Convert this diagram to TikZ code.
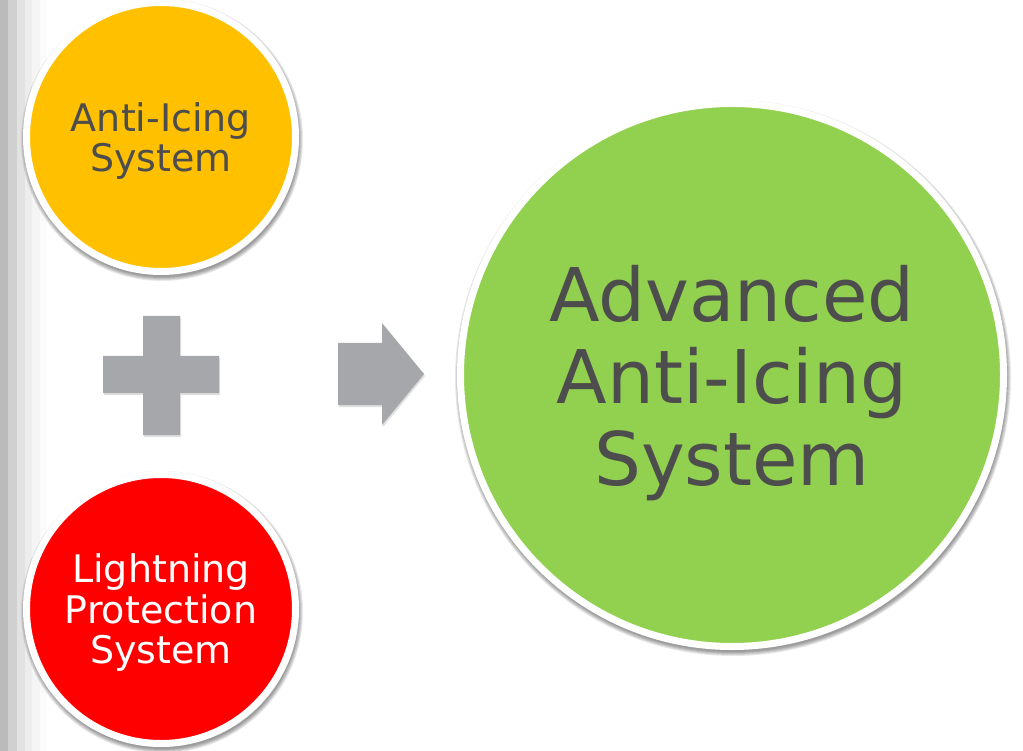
\documentclass[tikz,border=0pt]{standalone}
\usepackage{fontspec}
\setmainfont{DejaVu Sans}
\usetikzlibrary{shadows}
\definecolor{txtgray}{HTML}{4D4D4D}
\definecolor{yfill}{HTML}{FFC000}
\definecolor{rfill}{HTML}{FF0000}
\definecolor{gfill}{HTML}{92D050}
\definecolor{shapegray}{HTML}{A6A7AB}
\definecolor{bandA}{HTML}{BBBBBB}
\definecolor{bandB}{HTML}{D0D0D0}
\definecolor{bandC}{HTML}{E2E2E2}
\definecolor{bandD}{HTML}{EDEDED}
\definecolor{bandE}{HTML}{F5F5F5}
\definecolor{bandF}{HTML}{FBFBFB}
\tikzset{
  bubble/.style={circle, draw=white, line width=7pt, inner sep=0pt, align=center,
    text depth=0pt},
  smallbubble/.style={bubble, minimum size=269pt, font=\fontsize{38}{40.5}\selectfont},
  bigbubble/.style={bubble, minimum size=543pt, font=\fontsize{74}{82}\selectfont, text=txtgray},
  softshadow/.style={fill=black, opacity=0.09},
  grayshape/.style={fill=shapegray, drop shadow={shadow xshift=1pt, shadow yshift=-2pt, opacity=0.25}}
}
\newcommand{\bubbleshadow}[3]{%
  \foreach \k in {0,1,2,3,4}{\fill[softshadow] (#1+1,#2+3) circle[radius={(#3-1+\k)*1pt}];}}
\begin{document}
\begin{tikzpicture}[x=1pt,y=-1pt]
\useasboundingbox (0,0) rectangle (1023,751);
\fill[white] (0,0) rectangle (1023,751);
% left gradient strip
\fill[bandF] (0,0) rectangle (47,751);
\fill[bandE] (0,0) rectangle (40,751);
\fill[bandD] (0,0) rectangle (32,751);
\fill[bandC] (0,0) rectangle (25,751);
\fill[bandB] (0,0) rectangle (17,751);
\fill[bandA] (0,0) rectangle (8,751);
% shadows
\bubbleshadow{161}{137}{138}
\bubbleshadow{161}{609}{138}
\bubbleshadow{732}{375}{275}
% circles
\node[smallbubble, fill=yfill, text=txtgray] (anti) at (161,137) {Anti-Icing\\System};
\node[smallbubble, fill=rfill, text=white] (light) at (161,609) {Lightning\\Protection\\System};
\node[bigbubble, fill=gfill] (adv) at (732,375) {Advanced\\Anti-Icing\\System};
% plus sign
\path[grayshape] (143,316) -- (180,316) -- (180,356) -- (219,356) -- (219,393) -- (180,393)
  -- (180,435) -- (143,435) -- (143,393) -- (103,393) -- (103,356) -- (143,356) -- cycle;
% arrow
\path[grayshape] (338,343) -- (382,343) -- (382,323) -- (424,374) -- (382,425) -- (382,405)
  -- (338,405) -- cycle;
\end{tikzpicture}
\end{document}
